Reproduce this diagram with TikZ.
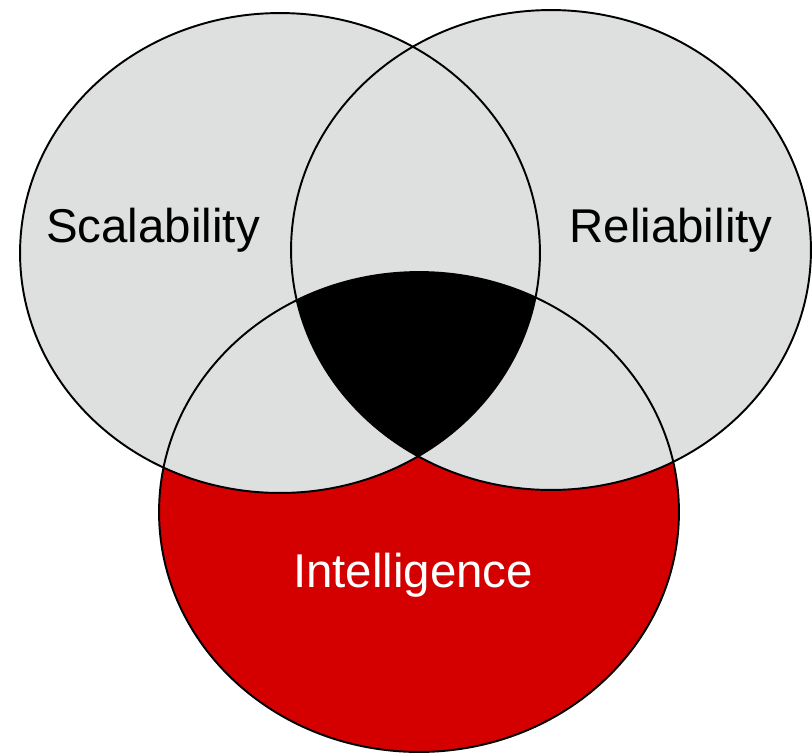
\documentclass[tikz,border=0pt]{standalone}
\usepackage{fontspec}
\setmainfont{Liberation Sans}
\usetikzlibrary{positioning}
\definecolor{venngray}{RGB}{222,223,223}
\definecolor{vennred}{RGB}{212,0,0}

\begin{document}
\begin{tikzpicture}[x=0.02cm,y=-0.02cm]

\tikzset{set shape/.style={x radius=5.2cm, y radius=4.8cm},
	set label/.style={anchor=base, inner sep=0pt,
		font=\fontsize{27}{32}\selectfont
	},
}
\useasboundingbox (0,0) rectangle (812,755);
\coordinate (scal) at (280,253);
\coordinate (reli) at (551,250);
\coordinate (intel) at (419,512);
% the three sets
\fill[vennred] (intel) ellipse [set shape];
\fill[venngray] (scal) ellipse [set shape];
\fill[venngray] (reli) ellipse [set shape];
% common part
\begin{scope}
	\clip (scal) ellipse [set shape];
	\clip (reli) ellipse [set shape];
	\fill[black] (intel) ellipse [set shape];
\end{scope}
\foreach \c in {scal,reli,intel}
	\draw[line width=1.1pt] (\c) ellipse [set shape];
%labels
\node[set label] (scaltext) at (153,242) {Scalability};
\node[set label] (relitext) at (671,242) {Reliability};
\node[set label, text=white] (inteltext) at (413,587) {Intelligence};
\end{tikzpicture}
\end{document}
